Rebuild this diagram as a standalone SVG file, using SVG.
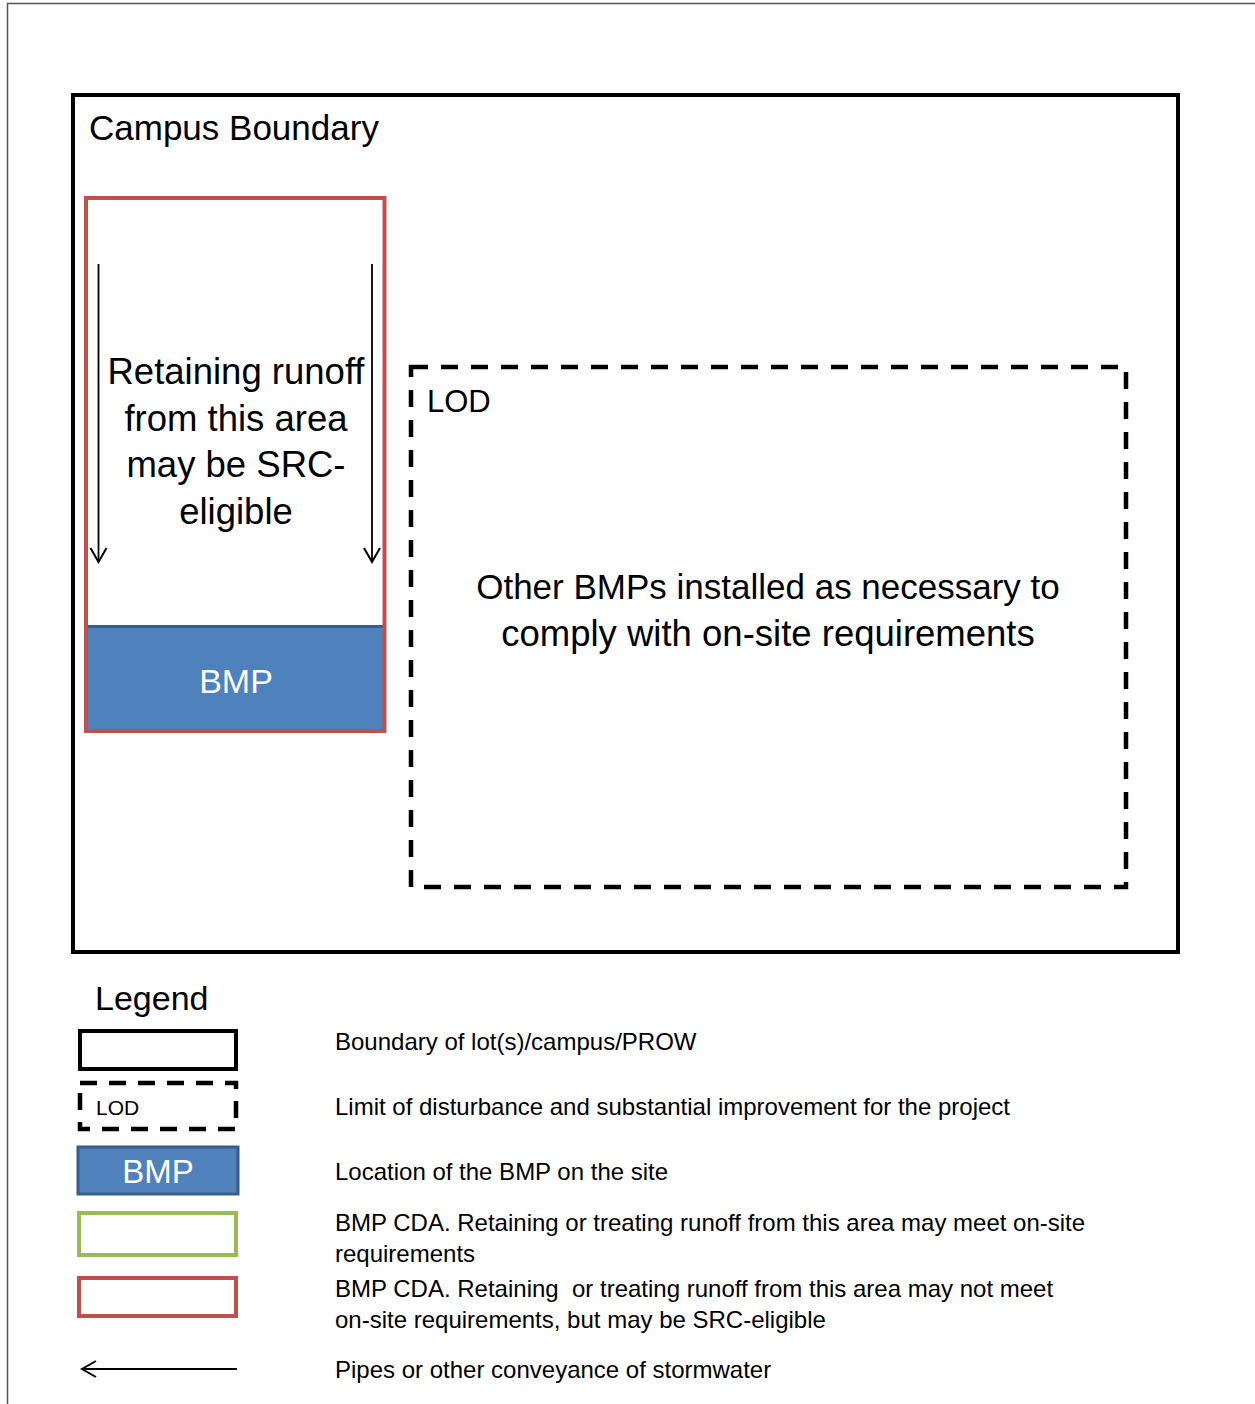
<svg xmlns="http://www.w3.org/2000/svg" width="1255" height="1404" viewBox="0 0 1255 1404">
<style>
text{font-family:"Liberation Sans",Arial,sans-serif;fill:#000}
.big{font-size:35px}
.mid{font-size:36.5px}
.leg{font-size:24px;white-space:pre}
.solid{fill:none;stroke:#000;stroke-width:4}
.dash{fill:none;stroke:#000;stroke-width:4.5;stroke-dasharray:17 13}
.red{fill:none;stroke:#C0504D;stroke-width:4}
.green{fill:none;stroke:#9BBB59;stroke-width:4}
.bmp{fill:#4F81BD;stroke:#385D8A;stroke-width:3}
.white{fill:#fff}
.pipe{fill:none;stroke:#000;stroke-width:1.8}
</style>
<defs>
<marker id="open" markerUnits="userSpaceOnUse" markerWidth="24" markerHeight="24" viewBox="-18 -12 24 24" refX="0" refY="0" orient="auto">
<path d="M-14,-8 L0,0 L-14,8" fill="none" stroke="#000" stroke-width="2"/>
</marker>
</defs>
<rect width="1255" height="1404" fill="#fff"/>
<path d="M7.5,1404 V3.5 H1255" fill="none" stroke="#555" stroke-width="1.5"/>

<g id="campus">
<rect class="solid" x="73" y="95" width="1105" height="857"/>
<text class="big" x="89" y="140">Campus Boundary</text>
</g>

<g id="cda">
<rect x="86" y="198" width="298.5" height="533" fill="#fff" stroke="none"/>
<text class="mid" text-anchor="middle" x="236" y="384">Retaining runoff</text>
<text class="mid" text-anchor="middle" x="236" y="431">from this area</text>
<text class="mid" text-anchor="middle" x="236" y="477">may be SRC-</text>
<text class="mid" text-anchor="middle" x="236" y="524">eligible</text>
</g>

<g id="bmp">
<rect class="bmp" x="86" y="626.5" width="298.5" height="104"/>
<text class="white" text-anchor="middle" x="236" y="693" style="font-size:34px">BMP</text>
</g>

<g id="cda-border">
<rect class="red" x="86" y="198" width="298.5" height="533"/>
</g>

<g id="lod">
<rect class="dash" x="411" y="367" width="715" height="520"/>
<text x="427" y="412" style="font-size:31px">LOD</text>
<text class="big" text-anchor="middle" x="768" y="599">Other BMPs installed as necessary to</text>
<text class="mid" text-anchor="middle" x="768" y="646">comply with on-site requirements</text>
</g>

<g id="connectors">
<line class="pipe" x1="98.5" y1="264" x2="98.5" y2="562" marker-end="url(#open)"/>
<line class="pipe" x1="372" y1="264" x2="372" y2="562" marker-end="url(#open)"/>
</g>

<g id="legend">
<text x="95" y="1010" style="font-size:34px">Legend</text>
<g id="legend-boundary">
<rect class="solid" x="80" y="1031" width="156" height="38"/>
<text class="leg" x="335" y="1050">Boundary of lot(s)/campus/PROW</text>
</g>
<g id="legend-lod">
<rect class="dash" x="80" y="1083" width="156" height="46" style="stroke-dasharray:17 12"/>
<text x="96" y="1115" style="font-size:21px">LOD</text>
<text class="leg" x="335" y="1115">Limit of disturbance and substantial improvement for the project</text>
</g>
<g id="legend-bmp">
<rect class="bmp" x="78" y="1147" width="160" height="47"/>
<text class="white" text-anchor="middle" x="158" y="1183" style="font-size:33px">BMP</text>
<text class="leg" x="335" y="1180">Location of the BMP on the site</text>
</g>
<g id="legend-green">
<rect class="green" x="79" y="1213" width="157" height="42"/>
<text class="leg" x="335" y="1231">BMP CDA. Retaining or treating runoff from this area may meet on-site</text>
<text class="leg" x="335" y="1262">requirements</text>
</g>
<g id="legend-red">
<rect class="red" x="79" y="1278" width="157" height="38"/>
<text class="leg" x="335" y="1297">BMP CDA. Retaining  or treating runoff from this area may not meet</text>
<text class="leg" x="335" y="1328">on-site requirements, but may be SRC-eligible</text>
</g>
<g id="legend-pipe">
<line class="pipe" x1="237" y1="1369" x2="82" y2="1369" marker-end="url(#open)"/>
<text class="leg" x="335" y="1378">Pipes or other conveyance of stormwater</text>
</g>
</g>
</svg>
